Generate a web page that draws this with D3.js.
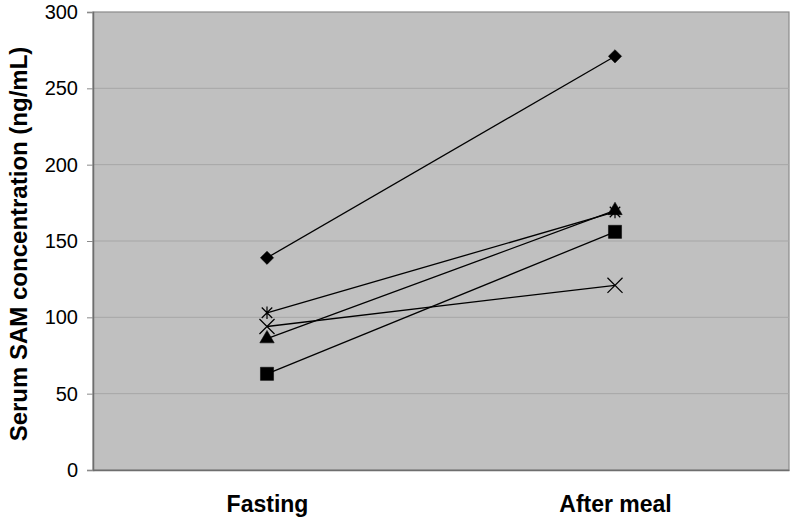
<!DOCTYPE html>
<html>
<head>
<meta charset="utf-8">
<script src="https://cdn.jsdelivr.net/npm/d3@7"></script>
<style>
  body { margin: 0; background: #fff; }
  text { font-family: "Liberation Sans", Arial, sans-serif; }
</style>
</head>
<body>
<div id="chart"></div>
<script>
// categories and series
var categories = ["Fasting", "After meal"];
var diamondValues = [139, 271];
var squareValues = [63, 156];
var triangleValues = [86, 170];
var crossValues = [94, 121];
var starValues = [103, 169];
var yTicks = [0, 50, 100, 150, 200, 250, 300];

var series = [
  { marker: "diamond", values: diamondValues },
  { marker: "square", values: squareValues },
  { marker: "triangle", values: triangleValues },
  { marker: "cross", values: crossValues },
  { marker: "star", values: starValues }
];

var width = 800, height = 523;
var margin = { top: 12, right: 11, bottom: 53, left: 93 };
var w = width - margin.left - margin.right,
    h = height - margin.top - margin.bottom;

var svg = d3.select("#chart")
    .append("svg")
    .attr("width", width)
    .attr("height", height);

var g = svg.append("g")
    .attr("transform", "translate(" + margin.left + "," + margin.top + ")");

var x = d3.scalePoint().domain(categories).range([0, w]).padding(0.5);
var y = d3.scaleLinear().domain([0, 300]).range([h, 0]);

// plot area
g.append("rect")
    .attr("width", w)
    .attr("height", h)
    .attr("fill", "#c0c0c0")
    .attr("stroke", "#8a8a8a")
    .attr("stroke-width", 1.2);

// gridlines
g.selectAll(".grid")
    .data(yTicks.filter(function(d){ return d > 0 && d < 300; }))
    .enter()
  .append("line")
    .attr("x1", 0)
    .attr("x2", w)
    .attr("y1", function(d){ return y(d); })
    .attr("y2", function(d){ return y(d); })
    .attr("stroke", "#a6a6a6")
    .attr("stroke-width", 1);

// y axis
var yAxis = g.append("g")
    .call(d3.axisLeft(y).tickValues(yTicks).tickSize(6).tickPadding(9));
yAxis.select(".domain").attr("stroke", "#6e6e6e").attr("stroke-width", 1.5);
yAxis.selectAll(".tick line").attr("stroke", "#8a8a8a");
yAxis.selectAll(".tick text")
    .attr("font-size", "20px")
    .attr("font-family", "Liberation Sans, Arial, sans-serif")
    .attr("fill", "#000");

// x axis
var xAxis = g.append("g")
    .attr("transform", "translate(0," + h + ")")
    .call(d3.axisBottom(x).tickSize(0).tickPadding(26));
xAxis.select(".domain").attr("stroke", "#6e6e6e").attr("stroke-width", 1.5);
xAxis.selectAll(".tick text")
    .attr("font-size", "23px")
    .attr("font-weight", "bold")
    .attr("font-family", "Liberation Sans, Arial, sans-serif")
    .attr("fill", "#000");

// y title
svg.append("text")
    .attr("transform", "translate(27," + (margin.top + h / 2 + 3) + ") rotate(-90)")
    .attr("text-anchor", "middle")
    .attr("font-size", "24px")
    .attr("font-weight", "bold")
    .text("Serum SAM concentration (ng/mL)");

// lines
var line = d3.line()
    .x(function(d, i){ return x(categories[i]); })
    .y(function(d){ return y(d); });

g.selectAll(".series")
    .data(series)
    .enter()
  .append("path")
    .attr("d", function(s){ return line(s.values); })
    .attr("fill", "none")
    .attr("stroke", "#000")
    .attr("stroke-width", 1.3);

// excel-like star: an x with a vertical bar
var symbolStar = {
  draw: function(context, size) {
    var r = Math.sqrt(size) / 2;
    context.moveTo(-r, -r); context.lineTo(r, r);
    context.moveTo(-r, r); context.lineTo(r, -r);
    context.moveTo(0, -r * 1.2); context.lineTo(0, r * 1.2);
  }
};

// markers
var symbols = {
  diamond: d3.symbol().type(d3.symbolDiamond2).size(112),
  square: d3.symbol().type(d3.symbolSquare).size(172),
  triangle: d3.symbol().type(d3.symbolTriangle).size(90),
  cross: d3.symbol().type(d3.symbolX).size(150),
  star: d3.symbol().type(symbolStar).size(110)
};

series.forEach(function(s){
  var open = s.marker === "cross" || s.marker === "star";
  g.selectAll(".m-" + s.marker)
      .data(s.values)
      .enter()
    .append("path")
      .attr("d", symbols[s.marker])
      .attr("transform", function(d, i){
        return "translate(" + x(categories[i]) + "," + y(d) + ")";
      })
      .attr("fill", open ? "none" : "#000")
      .attr("stroke", "#000")
      .attr("stroke-width", open ? 1.2 : 0.5);
});
</script>
</body>
</html>
